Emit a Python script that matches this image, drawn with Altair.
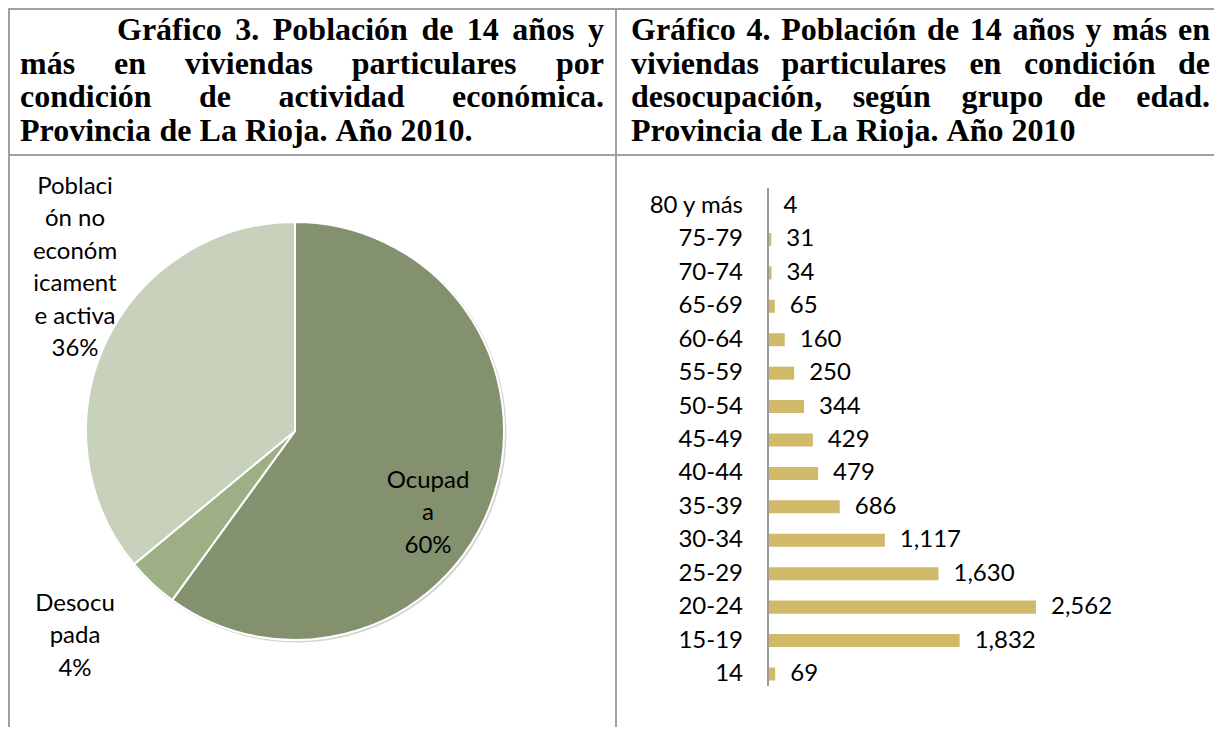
import altair as alt
import pandas as pd

# ---------------- data ----------------
age_groups = ["80 y más", "75-79", "70-74", "65-69", "60-64", "55-59", "50-54",
              "45-49", "40-44", "35-39", "30-34", "25-29", "20-24", "15-19", "14"]
unemployed = [4, 31, 34, 65, 160, 250, 344, 429, 479, 686, 1117, 1630, 2562, 1832, 69]

pie_cats = ["Ocupada", "Desocupada", "Población no económicamente activa"]
pie_pct = [60, 4, 36]
pie_colors = ["#83916F", "#9DAF84", "#C8D1BC"]

pie_label_lines = [
    ["Poblaci", "ón no", "económ", "icament", "e activa", "36%"],
    ["Ocupad", "a", "60%"],
    ["Desocu", "pada", "4%"],
]

title_left = [
    "Gráfico 3. Población de 14 años y",
    "más en viviendas particulares por",
    "condición de actividad económica.",
    "Provincia de La Rioja. Año 2010.",
]
title_right = [
    "Gráfico 4. Población de 14 años y más en",
    "viviendas particulares en condición de",
    "desocupación, según grupo de edad.",
    "Provincia de La Rioja. Año 2010",
]

# ---------------- layout ----------------
M = 8  # page margin


def P(v):
    return v - M


W, H = 1222 - 2 * M, 735 - 2 * M
BORDER = "#A0A0A0"
LABEL_FONT = "Lato"
LABEL_SIZE = 24

# Times-Bold advance widths (1/1000 em) for justification
TB = {" ": 250, ".": 250, ",": 250, "A": 722, "G": 778, "L": 667, "P": 611, "R": 722,
      "a": 500, "b": 556, "c": 444, "d": 556, "e": 444, "f": 333, "g": 500, "h": 556,
      "i": 278, "j": 333, "k": 556, "l": 278, "m": 833, "n": 556, "o": 500, "p": 556,
      "q": 556, "r": 444, "s": 389, "t": 333, "u": 556, "v": 500, "w": 722, "x": 500,
      "y": 500, "z": 444, "á": 500, "é": 444, "í": 278, "ó": 500, "ú": 556, "ñ": 556}
TSIZE = 32


def wwidth(w):
    return sum(TB.get(ch, 500) for ch in w) * TSIZE / 1000.0


def layout_title(lines, left, right, first_indent, baselines):
    rows = []
    for i, line in enumerate(lines):
        words = line.split(" ")
        start = first_indent if i == 0 else left
        widths = [wwidth(w) for w in words]
        if i < len(lines) - 1 and len(words) > 1:
            gap = (right - start - sum(widths)) / (len(words) - 1)
        else:
            gap = TB[" "] * TSIZE / 1000.0
        x = start
        for w, ww in zip(words, widths):
            rows.append({"t": w, "x": P(x), "y": P(baselines[i])})
            x += ww + gap
    return rows


baselines = [40, 73.5, 107, 140.5]
title_rows = (layout_title(title_left, 20, 604, 117, baselines)
              + layout_title(title_right, 631, 1210, 631, baselines))
title_df = pd.DataFrame(title_rows)

titles = alt.Chart(title_df).mark_text(
    align="left", baseline="alphabetic", font="Liberation Serif",
    fontSize=TSIZE, fontWeight="bold", color="black"
).encode(
    x=alt.X("x:Q", scale=None, axis=None),
    y=alt.Y("y:Q", scale=None, axis=None),
    text="t:N",
)

# table borders
border_df = pd.DataFrame({
    "x": [0, 1, P(616), 0],
    "x2": [W, 1, P(616), W],
    "y": [1, 0, 0, P(155)],
    "y2": [1, H, H, P(155)],
})
borders = alt.Chart(border_df).mark_rule(color=BORDER, strokeWidth=2).encode(
    x=alt.X("x:Q", scale=None, axis=None),
    x2="x2:Q",
    y=alt.Y("y:Q", scale=None, axis=None),
    y2="y2:Q",
)

# ---------------- pie ----------------
pie_df = pd.DataFrame({"cat": pie_cats, "pct": pie_pct, "ord": [0, 1, 2]})
pie_shadow = alt.Chart(pd.DataFrame({"v": [1]})).mark_arc(
    outerRadius=210, color="#D6D6D6"
).encode(
    theta=alt.Theta("v:Q"),
    x=alt.value(P(296.5)),
    y=alt.value(P(432.5)),
)
pie = alt.Chart(pie_df).mark_arc(outerRadius=209, stroke="white", strokeWidth=2).encode(
    theta=alt.Theta("pct:Q", stack=True),
    order=alt.Order("ord:Q"),
    color=alt.Color("cat:N", scale=alt.Scale(domain=pie_cats, range=pie_colors), legend=None),
    x=alt.value(P(295)),
    y=alt.value(P(431)),
)

label_anchor = [(75, 187), (428, 481), (75, 604)]
LINE_H = 32.4
pl_rows = []
for lines, (cx, cy) in zip(pie_label_lines, label_anchor):
    for k, t in enumerate(lines):
        pl_rows.append({"t": t, "x": P(cx), "y": P(cy + k * LINE_H)})
pie_labels = alt.Chart(pd.DataFrame(pl_rows)).mark_text(
    align="center", baseline="middle", font=LABEL_FONT, fontSize=LABEL_SIZE, color="black"
).encode(
    x=alt.X("x:Q", scale=None, axis=None),
    y=alt.Y("y:Q", scale=None, axis=None),
    text="t:N",
)

# ---------------- bars ----------------
PX_PER_UNIT = 0.1046
X0 = P(768)
xs = alt.Scale(domain=[0, 3000], range=[X0, X0 + 3000 * PX_PER_UNIT], nice=False)
ys = alt.Scale(domain=age_groups, range=[P(189.3), P(690.7)], paddingInner=0.61, paddingOuter=0.305)

bar_df = pd.DataFrame({"grupo": age_groups, "valor": unemployed})
base = alt.Chart(bar_df)
bars = base.mark_bar(color="#D1B96A").encode(
    x=alt.X("valor:Q", scale=xs, axis=None),
    y=alt.Y("grupo:N", scale=ys, axis=None, sort=age_groups),
)
vtext = base.mark_text(
    align="left", baseline="middle", dx=15, font=LABEL_FONT, fontSize=LABEL_SIZE, color="black"
).encode(
    x=alt.X("valor:Q", scale=xs, axis=None),
    y=alt.Y("grupo:N", scale=ys, axis=None, sort=age_groups),
    text=alt.Text("valor:Q", format=","),
)
ctext = base.mark_text(
    align="right", baseline="middle", font=LABEL_FONT, fontSize=LABEL_SIZE, color="black"
).encode(
    x=alt.value(P(743)),
    y=alt.Y("grupo:N", scale=ys, axis=None, sort=age_groups),
    text="grupo:N",
)
axis_rule = alt.Chart(pd.DataFrame({"v": [0]})).mark_rule(color="#9A9A9A", strokeWidth=2).encode(
    x=alt.X("v:Q", scale=xs, axis=None),
    y=alt.value(P(188)),
    y2=alt.value(P(686)),
)
bar_layer = alt.layer(bars, axis_rule, vtext, ctext)

chart = alt.layer(
    borders, titles, pie_shadow, pie, pie_labels, bar_layer
).resolve_scale(
    x="independent", y="independent", color="independent", theta="independent"
).properties(
    width=W, height=H, padding=0,
    autosize=alt.AutoSizeParams(type="none"),
    background="white",
).configure_view(stroke=None)

chart.save("out.html", embed_options={"renderer": "svg", "actions": False})
